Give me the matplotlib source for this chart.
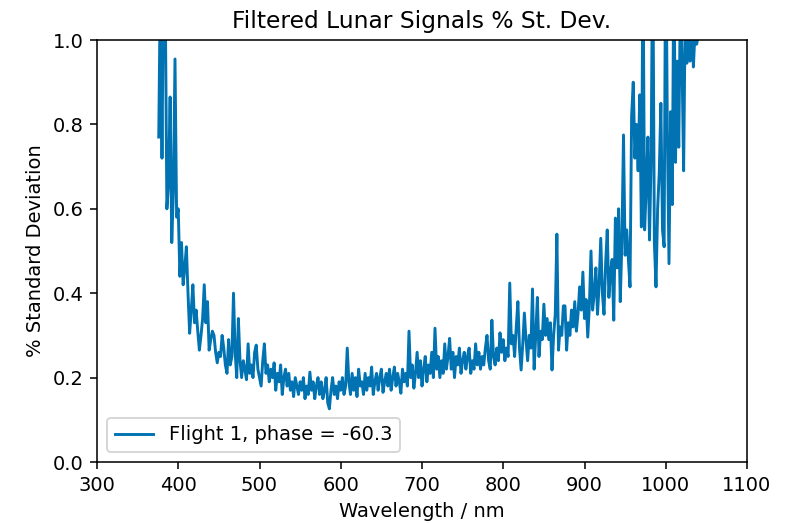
import numpy as np
import matplotlib
matplotlib.use("Agg")
import matplotlib.pyplot as plt

# Wavelength grid (nm), 2 nm sampling
wavelength = np.arange(376, 1041, 2)

# Percentage standard deviation of the filtered lunar signal (Flight 1)
pct_std = [
    0.77, 1.15, 0.72, 1.20, 1.10, 0.60, 0.66, 0.865, 0.52, 0.64,      # 376-394
    0.955, 0.58, 0.60, 0.44, 0.52, 0.42, 0.46, 0.51, 0.40, 0.305,     # 396-414
    0.36, 0.42, 0.33, 0.36, 0.31, 0.265, 0.30, 0.34, 0.42, 0.33,      # 416-434
    0.38, 0.265, 0.29, 0.31, 0.30, 0.26, 0.235, 0.26, 0.25, 0.30,     # 436-454
    0.27, 0.23, 0.21, 0.29, 0.23, 0.25, 0.40, 0.26, 0.20, 0.34,       # 456-474
    0.24, 0.20, 0.24, 0.22, 0.195, 0.28, 0.21, 0.23, 0.20, 0.26,      # 476-494
    0.277, 0.22, 0.20, 0.18, 0.24, 0.28, 0.21, 0.23, 0.19, 0.22,      # 496-514
    0.20, 0.235, 0.17, 0.21, 0.19, 0.23, 0.16, 0.20, 0.22, 0.18,      # 516-534
    0.21, 0.17, 0.19, 0.155, 0.20, 0.18, 0.16, 0.19, 0.17, 0.20,      # 536-554
    0.15, 0.18, 0.16, 0.213, 0.17, 0.19, 0.15, 0.18, 0.20, 0.16,      # 556-574
    0.19, 0.15, 0.17, 0.20, 0.14, 0.126, 0.17, 0.20, 0.16, 0.18,      # 576-594
    0.15, 0.19, 0.17, 0.20, 0.16, 0.18, 0.27, 0.19, 0.16, 0.21,       # 596-614
    0.17, 0.20, 0.155, 0.22, 0.18, 0.19, 0.16, 0.21, 0.17, 0.20,      # 616-634
    0.18, 0.225, 0.16, 0.19, 0.21, 0.17, 0.20, 0.22, 0.165, 0.19,     # 636-654
    0.21, 0.18, 0.22, 0.17, 0.20, 0.225, 0.18, 0.21, 0.19, 0.163,     # 656-674
    0.22, 0.19, 0.21, 0.18, 0.31, 0.20, 0.23, 0.175, 0.21, 0.26,      # 676-694
    0.20, 0.24, 0.18, 0.22, 0.25, 0.19, 0.23, 0.21, 0.26, 0.20,       # 696-714
    0.317, 0.22, 0.25, 0.20, 0.24, 0.21, 0.28, 0.22, 0.25, 0.293,     # 716-734
    0.22, 0.26, 0.20, 0.25, 0.23, 0.27, 0.21, 0.24, 0.26, 0.22,       # 736-754
    0.25, 0.27, 0.21, 0.24, 0.22, 0.28, 0.23, 0.26, 0.22, 0.25,       # 756-774
    0.23, 0.27, 0.30, 0.24, 0.22, 0.336, 0.25, 0.23, 0.27, 0.24,      # 776-794
    0.306, 0.26, 0.29, 0.24, 0.27, 0.25, 0.424, 0.28, 0.30, 0.25,     # 796-814
    0.32, 0.38, 0.27, 0.218, 0.28, 0.353, 0.29, 0.24, 0.30, 0.27,     # 816-834
    0.41, 0.22, 0.30, 0.39, 0.25, 0.31, 0.29, 0.374, 0.30, 0.34,      # 836-854
    0.29, 0.33, 0.218, 0.30, 0.35, 0.54, 0.265, 0.32, 0.30, 0.37,     # 856-874
    0.37, 0.265, 0.33, 0.30, 0.36, 0.32, 0.38, 0.31, 0.35, 0.415,     # 876-894
    0.36, 0.45, 0.34, 0.385, 0.296, 0.37, 0.50, 0.36, 0.40, 0.46,     # 896-914
    0.35, 0.42, 0.53, 0.40, 0.35, 0.47, 0.55, 0.39, 0.45, 0.48,       # 916-934
    0.336, 0.578, 0.46, 0.60, 0.38, 0.52, 0.775, 0.49, 0.55, 0.48,    # 936-954
    0.415, 0.82, 0.90, 0.72, 0.80, 0.69, 0.87, 0.557, 1.20, 0.55,     # 956-974
    0.65, 0.77, 0.526, 0.72, 1.25, 0.52, 0.415, 0.60, 0.685, 0.85,    # 976-994
    0.55, 0.51, 1.30, 0.78, 0.47, 0.83, 0.61, 1.20, 0.71, 0.95,       # 996-1014
    0.746, 1.10, 0.95, 0.69, 1.08, 0.945, 1.12, 0.95, 1.05, 0.936,    # 1016-1034
    1.02, 0.99, 1.01,                                                 # 1036-1040
]

series_label = "Flight 1, phase = -60.3"
x_ticks = [300, 400, 500, 600, 700, 800, 900, 1000, 1100]
y_ticks = [0.0, 0.2, 0.4, 0.6, 0.8, 1.0]

plt.rcParams["font.family"] = ["DejaVu Sans"]

W, H, DPI = 794, 523, 140
fig = plt.figure(figsize=(W / DPI, H / DPI), dpi=DPI)
ax = fig.add_axes([97 / W, 61 / H, 650 / W, 422 / H])

ax.plot(wavelength, pct_std, color="#0173b2", linewidth=1.5, label=series_label)

ax.set_xlim(300, 1100)
ax.set_ylim(0, 1.0)
ax.set_xticks(x_ticks)
ax.set_yticks(y_ticks)
ax.set_xticklabels([str(t) for t in x_ticks])
ax.set_yticklabels([f"{t:.1f}" for t in y_ticks])
ax.tick_params(labelsize=10)

ax.set_xlabel("Wavelength / nm", fontsize=10)
ax.set_ylabel("% Standard Deviation", fontsize=10)
ax.set_title("Filtered Lunar Signals % St. Dev.", fontsize=12)

ax.legend(loc="lower left", fontsize=10)

fig.savefig("out.png", dpi=DPI)
